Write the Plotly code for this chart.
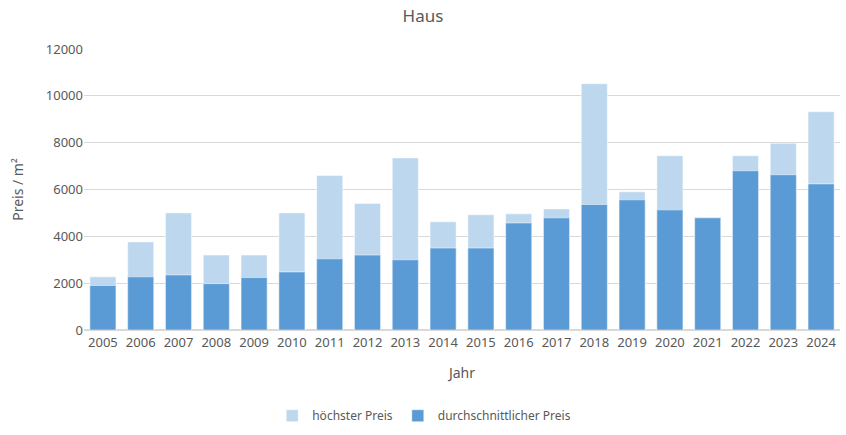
import plotly.graph_objects as go

# -- DATA --

years = [str(y) for y in range(2005, 2025)]

hoechster_preis = [2270, 3760, 5000, 3200, 3200, 5000, 6600, 5400, 7350, 4620,
                   4920, 4960, 5170, 10520, 5900, 7440, 4790, 7440, 7970, 9320]

durchschnitt_preis = [1900, 2270, 2350, 1980, 2240, 2480, 3040, 3200, 3000, 3500,
                      3500, 4570, 4790, 5360, 5560, 5130, 4790, 6800, 6630, 6240]

y_ticks = [0, 2000, 4000, 6000, 8000, 10000, 12000]

# -- PLOT --

FONT = "Noto Sans, Open Sans, sans-serif"
GREY = "#595959"

fig = go.Figure()

fig.add_trace(go.Bar(
    x=years,
    y=hoechster_preis,
    name="höchster Preis",
    marker_color="#BDD7EE",
    width=0.69,
))

fig.add_trace(go.Bar(
    x=years,
    y=durchschnitt_preis,
    name="durchschnittlicher Preis",
    marker_color="#5B9BD5",
    width=0.69,
))

fig.update_layout(
    barmode="overlay",
    width=846,
    height=435,
    template="plotly_white",
    paper_bgcolor="white",
    plot_bgcolor="white",
    font=dict(family=FONT, color=GREY, size=13),
    title=dict(text="Haus", x=0.5, xanchor="center", y=0.963, yanchor="middle",
               font=dict(size=17, color=GREY)),
    margin=dict(l=84, r=6, t=49, b=105, autoexpand=False),
    legend=dict(
        orientation="h",
        x=0.45, xanchor="center",
        y=-0.305, yanchor="middle",
        font=dict(size=12, color=GREY),
        itemwidth=30,
        traceorder="normal",
    ),
)

fig.update_xaxes(
    title=dict(text="Jahr", font=dict(size=14, color=GREY), standoff=18),
    tickfont=dict(size=13, color=GREY),
    showgrid=False,
    showline=True,
    linecolor="#D9D9D9",
    ticks="",
    automargin=False,
)

fig.update_yaxes(
    title=dict(text="Preis / m²", font=dict(size=14, color=GREY), standoff=18),
    range=[0, 12000],
    tickvals=y_ticks,
    tickformat="d",
    tickfont=dict(size=13, color=GREY),
    showgrid=True,
    gridcolor="#D9D9D9",
    zeroline=True,
    zerolinecolor="#D9D9D9",
    ticks="",
    automargin=False,
)

# drop the default 8px body margin so the figure fills the window exactly
fig.write_html(
    "out.html",
    config={"displayModeBar": False},
    post_script="document.body.style.margin = '0';",
)
